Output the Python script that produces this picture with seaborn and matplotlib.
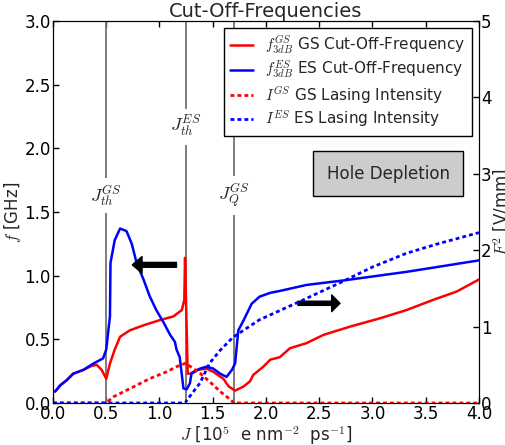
import numpy as np
import pandas as pd
from matplotlib import pyplot as plt
import seaborn as sns

# current density J [1e5 e nm^-2 ps^-1] and cut-off frequencies [GHz]
j_es_cut = [0.02, 0.07, 0.13, 0.19, 0.285, 0.38, 0.47, 0.50, 0.535, 0.54, 0.58, 0.63,
            0.69, 0.74, 0.785, 0.85, 0.91, 0.97, 1.04, 1.10, 1.145, 1.16, 1.19, 1.225,
            1.255, 1.286, 1.30, 1.38, 1.44, 1.505, 1.57, 1.63, 1.68, 1.71, 1.74, 1.79,
            1.866, 1.94, 2.04, 2.13, 2.38, 2.76, 3.32, 4.0]
f_es_cut = [0.09, 0.14, 0.18, 0.23, 0.26, 0.31, 0.35, 0.42, 0.68, 1.10, 1.28, 1.37,
            1.35, 1.25, 1.10, 0.97, 0.835, 0.73, 0.63, 0.535, 0.48, 0.42, 0.36, 0.115,
            0.107, 0.155, 0.23, 0.27, 0.285, 0.27, 0.23, 0.205, 0.26, 0.31, 0.57, 0.65,
            0.78, 0.835, 0.865, 0.88, 0.927, 0.966, 1.03, 1.12]

j_gs_cut = [0.02, 0.07, 0.13, 0.19, 0.285, 0.36, 0.41, 0.457, 0.50, 0.535, 0.58, 0.63,
            0.72, 0.85, 1.0, 1.13, 1.21, 1.233, 1.24, 1.265, 1.29, 1.35, 1.44, 1.505,
            1.60, 1.65, 1.71, 1.79, 1.85, 1.88, 1.975, 2.04, 2.13, 2.225, 2.38, 2.54,
            2.79, 3.07, 3.32, 3.57, 3.79, 4.0]
f_gs_cut = [0.09, 0.14, 0.18, 0.23, 0.26, 0.29, 0.30, 0.26, 0.19, 0.31, 0.42, 0.52,
            0.57, 0.61, 0.65, 0.68, 0.73, 0.81, 1.14, 0.23, 0.23, 0.26, 0.27, 0.245,
            0.19, 0.13, 0.097, 0.13, 0.17, 0.22, 0.285, 0.34, 0.36, 0.43, 0.47, 0.535,
            0.60, 0.665, 0.73, 0.81, 0.875, 0.97]

# lasing intensities (right axis)
j_gs_int = [0.0, 0.5, 0.566, 0.754, 0.91, 1.07, 1.16, 1.246, 1.38, 1.47, 1.57, 1.66, 1.70, 4.0]
i_gs = [0.0, 0.0, 0.08, 0.21, 0.32, 0.41, 0.475, 0.52, 0.39, 0.28, 0.15, 0.05, 0.0, 0.0]

j_es_int = [0.0, 1.24, 1.27, 1.38, 1.47, 1.57, 1.69, 1.82, 1.94, 2.13, 2.32, 2.69,
            3.0, 3.32, 3.63, 4.0]
i_es = [0.0, 0.0, 0.06, 0.26, 0.52, 0.69, 0.86, 0.98, 1.09, 1.21, 1.33, 1.57,
        1.78, 1.96, 2.09, 2.23]

# threshold markers
marker_j = [0.5, 1.246, 1.70]
marker_y = [1.63, 2.17, 1.63]
marker_txt = [r"$J_{th}^{GS}$", r"$J_{th}^{ES}$", r"$J_{Q}^{GS}$"]

sns.set_style("ticks", {"xtick.direction": "in", "ytick.direction": "in"})
plt.rcParams["font.family"] = ["DejaVu Sans"]
plt.rcParams["mathtext.fontset"] = "cm"
plt.rcParams["font.size"] = 12
plt.rcParams["axes.edgecolor"] = "black"
plt.rcParams["xtick.color"] = "black"
plt.rcParams["ytick.color"] = "black"
plt.rcParams["xtick.top"] = True

fig = plt.figure(figsize=(5.06, 4.45), dpi=100)
ax = fig.add_axes([0.1047, 0.0944, 0.8419, 0.8584])
ax2 = ax.twinx()

for xv, yv, t in zip(marker_j, marker_y, marker_txt):
    ax.axvline(xv, color="0.45", lw=1.3, zorder=1)
    ax.text(xv, yv, t, ha="center", va="center", fontsize=13, zorder=2,
            bbox=dict(facecolor="white", edgecolor="none", pad=4))

gs_cut = pd.DataFrame({"J": j_gs_cut, "f": f_gs_cut})
es_cut = pd.DataFrame({"J": j_es_cut, "f": f_es_cut})
gs_int = pd.DataFrame({"J": j_gs_int, "I": i_gs})
es_int = pd.DataFrame({"J": j_es_int, "I": i_es})

sns.lineplot(data=gs_cut, x="J", y="f", ax=ax, color="red", lw=1.8, sort=False,
             estimator=None, zorder=3)
sns.lineplot(data=es_cut, x="J", y="f", ax=ax, color="blue", lw=1.8, sort=False,
             estimator=None, zorder=3)
sns.lineplot(data=gs_int, x="J", y="I", ax=ax2, color="red", lw=2, sort=False,
             estimator=None, linestyle=(0, (1.4, 1.1)))
sns.lineplot(data=es_int, x="J", y="I", ax=ax2, color="blue", lw=2, sort=False,
             estimator=None, linestyle=(0, (1.4, 1.1)))

ax.annotate("", xy=(0.745, 1.085), xytext=(1.16, 1.085),
            arrowprops=dict(facecolor="black", edgecolor="black", width=3.5,
                            headwidth=12, headlength=7))
ax.annotate("", xy=(2.695, 0.783), xytext=(2.30, 0.783),
            arrowprops=dict(facecolor="black", edgecolor="black", width=3,
                            headwidth=12, headlength=6))

ax.text(3.146, 1.80, "Hole Depletion", ha="center", va="center", fontsize=12,
        bbox=dict(boxstyle="square,pad=0.8", facecolor="0.8", edgecolor="black"))

ax.set_xlim(0, 4)
ax.set_ylim(0, 3)
ax2.set_ylim(0, 5)
ax.set_xticks(np.arange(0, 4.01, 0.5))
ax.set_yticks(np.arange(0, 3.01, 0.5))
ax2.set_yticks(range(0, 6))
ax.set_xticklabels([f"{v:.1f}" for v in np.arange(0, 4.01, 0.5)])
ax.set_yticklabels([f"{v:.1f}" for v in np.arange(0, 3.01, 0.5)])
ax.tick_params(length=4, width=1, labelsize=12, pad=1.5)
ax2.tick_params(length=4, width=1, labelsize=12, pad=1.5)

ax.set_xlabel(r"$J$ [10$^5$  e nm$^{-2}$  ps$^{-1}$]", fontsize=12, labelpad=0)
ax.set_ylabel(r"$f$ [GHz]", fontsize=12, labelpad=1)
ax2.set_ylabel(r"$F_z^2$ [V/mm]", fontsize=12, labelpad=0)
ax.set_title("Cut-Off-Frequencies", fontsize=14, pad=3)

handles = ax.get_lines()[3:5] + ax2.get_lines()[0:2]
labels = [r"$f_{3dB}^{GS}$ GS Cut-Off-Frequency", r"$f_{3dB}^{ES}$ ES Cut-Off-Frequency",
          r"$I^{GS}$ GS Lasing Intensity", r"$I^{ES}$ ES Lasing Intensity"]
leg = ax2.legend(handles, labels, loc="upper right", fontsize=11, fancybox=False,
                 framealpha=1, edgecolor="black", handlelength=1.5,
                 borderaxespad=0.45, labelspacing=0.2)
leg.get_frame().set_linewidth(1)

plt.savefig("out.png", dpi=100)
